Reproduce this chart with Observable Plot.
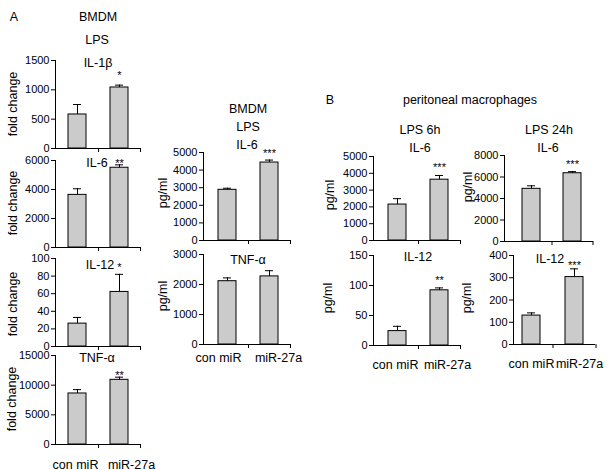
<!DOCTYPE html>
<html><head><meta charset="utf-8">
<script src="https://cdn.jsdelivr.net/npm/d3@7"></script>
<script src="https://cdn.jsdelivr.net/npm/@observablehq/plot@0.6"></script>
<style>
body{margin:0;background:#fff}
#fig{position:relative;width:610px;height:470px;overflow:hidden;font-family:"Liberation Sans",Arial,sans-serif;color:#000}
#fig svg{position:absolute;left:0;top:0}
.lbl{position:absolute;white-space:nowrap;transform:translate(-50%,-50%);font-size:12.5px;line-height:1}
.rot{transform:translate(-50%,-50%) rotate(-90deg);font-size:12.5px}
</style></head>
<body><div id="fig"></div>
<script>
// ---- data ----
const groups = ["con miR", "miR-27a"];
// A: BMDM, LPS, fold change
const il1bFold = [580, 1040], il1bFoldErr = [170, 40], il1bFoldStars = ["", "*"];
const il6Fold = [3630, 5500], il6FoldErr = [420, 200], il6FoldStars = ["", "**"];
const il12Fold = [26, 62], il12FoldErr = [7, 20], il12FoldStars = ["", "*"];
const tnfFold = [8600, 10900], tnfFoldErr = [650, 450], tnfFoldStars = ["", "**"];
// A: BMDM, LPS, pg/ml
const il6Bmdm = [2880, 4430], il6BmdmErr = [90, 140], il6BmdmStars = ["", "***"];
const tnfBmdm = [2110, 2270], tnfBmdmErr = [110, 190], tnfBmdmStars = ["", ""];
// B: peritoneal macrophages, LPS 6h
const il6Pm6 = [2140, 3620], il6Pm6Err = [350, 250], il6Pm6Stars = ["", "***"];
const il12Pm6 = [24, 92], il12Pm6Err = [8, 4], il12Pm6Stars = ["", "**"];
// B: LPS 24h
const il6Pm24 = [4900, 6350], il6Pm24Err = [280, 150], il6Pm24Stars = ["", "***"];
const il12Pm24 = [130, 303], il12Pm24Err = [12, 37], il12Pm24Stars = ["", "***"];
// tick values
const ticksIl1bFold = [0, 500, 1000, 1500];
const ticksIl6Fold = [0, 2000, 4000, 6000];
const ticksIl12Fold = [0, 20, 40, 60, 80, 100];
const ticksTnfFold = [0, 5000, 10000, 15000];
const ticksIl6Bmdm = [0, 1000, 2000, 3000, 4000, 5000];
const ticksTnfBmdm = [0, 1000, 2000, 3000];
const ticksIl6Pm6 = [0, 1000, 2000, 3000, 4000, 5000];
const ticksIl12Pm6 = [0, 50, 100, 150];
const ticksIl6Pm24 = [0, 2000, 4000, 6000, 8000];
const ticksIl12Pm24 = [0, 100, 200, 300, 400];

// ---- layout ----
const W = 610, H = 470;
const FONT = '"Liberation Sans", Arial, sans-serif';
const BAR_FILL = "#cbcbcb";
const fig = document.getElementById("fig");

function panel(values, errors, stars, ticks, o) {
  const data = groups.map((g, i) => ({group: g, value: values[i], err: errors[i], star: stars[i]}));
  const max = ticks[ticks.length - 1];
  const [l, r, t, b] = o.frame;
  const step = (o.xRange[1] - o.xRange[0]) / 2;
  const tickLen = 4 * max / (b - t);
  const marks = [
    Plot.barY(data, {x: "group", y: "value", fill: BAR_FILL, stroke: "#000", strokeWidth: 1}),
    Plot.ruleX(data, {x: "group", y1: "value", y2: d => d.value + d.err, stroke: "#000"}),
    Plot.tickY(data, {x: "group", y: d => d.value + d.err, insetLeft: 5, insetRight: 5, stroke: "#000"}),
    Plot.text(data, {x: "group", y: d => d.value + d.err, text: "star", dy: o.starDy, lineAnchor: "bottom", fontSize: 11}),
    Plot.ruleY([0], {stroke: "#000"}),
    Plot.ruleX(groups, {x: d => d, dx: step / 2, y1: 0, y2: -tickLen, stroke: "#000"}),
    Plot.axisY({ticks, tickSize: 4, tickPadding: 2, fontSize: 11, tickFormat: d3.format("d"), label: null}),
    Plot.frame({anchor: "left", stroke: "#000"})
  ];
  if (o.labelDx) {
    groups.forEach((g, i) => {
      marks.push(Plot.text([g], {x: d => d, text: d => d, frameAnchor: "bottom", dx: o.labelDx[i], dy: o.labelDy, fontSize: 12.5, lineAnchor: "middle"}));
    });
  }
  const svg = Plot.plot({
    width: W, height: H,
    marginLeft: l, marginRight: W - r, marginTop: t, marginBottom: H - b,
    style: {background: "transparent", fontFamily: FONT, fontSize: "11px", overflow: "visible", color: "#000"},
    x: {domain: groups, range: o.xRange, paddingInner: 0.57, paddingOuter: 0.285, axis: null},
    y: {domain: [0, max], axis: null},
    marks
  });
  fig.appendChild(svg);
}

function label(text, x, y, cls) {
  const d = document.createElement("div");
  d.className = "lbl" + (cls ? " " + cls : "");
  d.textContent = text;
  d.style.left = x + "px";
  d.style.top = y + "px";
  fig.appendChild(d);
}

// Panel A, fold change
panel(il1bFold, il1bFoldErr, il1bFoldStars, ticksIl1bFold, {frame: [55, 140, 60, 148], xRange: [56, 140], starDy: -6});
panel(il6Fold, il6FoldErr, il6FoldStars, ticksIl6Fold, {frame: [55, 140, 160, 247], xRange: [56, 140], starDy: 2});
panel(il12Fold, il12FoldErr, il12FoldStars, ticksIl12Fold, {frame: [55, 140, 258, 346], xRange: [56, 140], starDy: -3});
panel(tnfFold, tnfFoldErr, tnfFoldStars, ticksTnfFold, {frame: [55, 140, 355, 444], xRange: [56, 140], starDy: 2, labelDy: 20, labelDx: [-2, 12]});
// Panel A, pg/ml
panel(il6Bmdm, il6BmdmErr, il6BmdmStars, ticksIl6Bmdm, {frame: [203, 290, 152, 240], xRange: [206, 290], starDy: -3});
panel(tnfBmdm, tnfBmdmErr, tnfBmdmStars, ticksTnfBmdm, {frame: [203, 290, 254, 344], xRange: [206, 290], starDy: -3, labelDy: 13, labelDx: [-9, 9]});
// Panel B
panel(il6Pm6, il6Pm6Err, il6Pm6Stars, ticksIl6Pm6, {frame: [373, 460, 156, 240], xRange: [376, 460], starDy: -4});
panel(il12Pm6, il12Pm6Err, il12Pm6Stars, ticksIl12Pm6, {frame: [373, 460, 255, 345], xRange: [376, 460], starDy: -4, labelDy: 19, labelDx: [-2, 8]});
panel(il6Pm24, il6Pm24Err, il6Pm24Stars, ticksIl6Pm24, {frame: [504, 593, 155, 241], xRange: [510, 592], starDy: -4});
panel(il12Pm24, il12Pm24Err, il12Pm24Stars, ticksIl12Pm24, {frame: [513, 595, 255, 344], xRange: [510, 596], starDy: 0, labelDy: 19, labelDx: [0, 5]});

// titles
label("A", 14, 17);
label("BMDM", 98, 17);
label("LPS", 97, 40);
label("IL-1β", 98, 63);
label("IL-6", 97, 163);
label("IL-12", 100, 265);
label("TNF-α", 97, 358);
label("BMDM", 248, 109);
label("LPS", 248, 127);
label("IL-6", 247, 145);
label("TNF-α", 248, 260);
label("B", 330, 100);
label("peritoneal macrophages", 470, 100);
label("LPS 6h", 420, 130);
label("IL-6", 420, 148);
label("IL-12", 418, 257);
label("LPS 24h", 549, 130);
label("IL-6", 548, 148);
label("IL-12", 550, 259);
// y-axis titles
label("fold change", 13, 104, "rot");
label("fold change", 13, 203, "rot");
label("fold change", 13, 304, "rot");
label("fold change", 12, 399, "rot");
label("pg/ml", 163, 193, "rot");
label("pg/ml", 163, 296, "rot");
label("pg/ml", 330, 195, "rot");
label("pg/ml", 328, 298, "rot");
label("pg/ml", 468, 187, "rot");
label("pg/ml", 467, 298, "rot");
</script>
</body></html>
